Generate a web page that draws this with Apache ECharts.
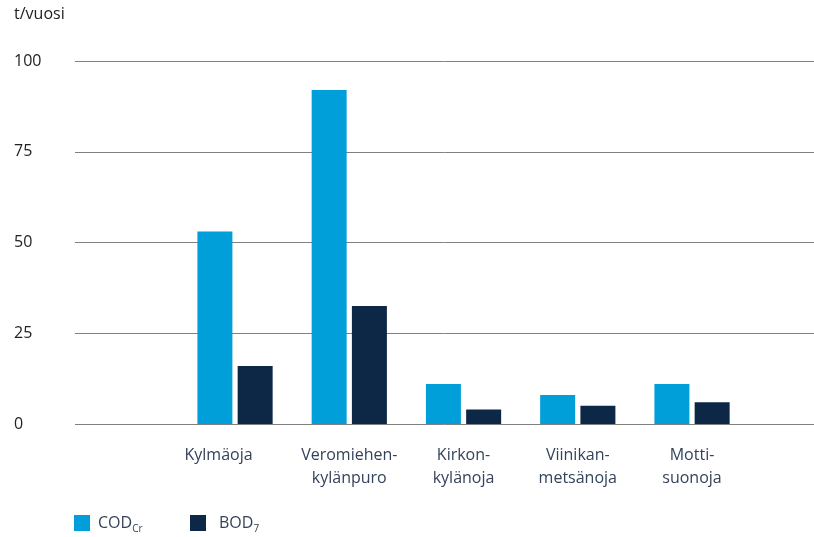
<!DOCTYPE html>
<html><head><meta charset="utf-8">
<script src="https://cdn.jsdelivr.net/npm/echarts@6/dist/echarts.min.js"></script>
<style>html,body{margin:0;padding:0;background:#fff}#c{width:814px;height:537px}</style>
</head><body><div id="c"></div>
<script>
const categories = ['Kylmäoja', 'Veromiehen-\nkylänpuro', 'Kirkon-\nkylänoja', 'Viinikan-\nmetsänoja', 'Motti-\nsuonoja'];
const codValues = [53, 92, 11, 8, 11];
const bodValues = [16, 32.5, 4, 5, 6];
const yTicks = { min: 0, max: 100, interval: 25 };
const yUnit = 't/vuosi';

const FONT = 'Open Sans';
const chart = echarts.init(document.getElementById('c'));
const catData = categories.map((c, i) => i === 0
  ? { value: c, textStyle: { padding: [0, 33, 0, 0] } }
  : c);
chart.setOption({
  animation: false,
  textStyle: { fontFamily: FONT },
  title: { text: yUnit, left: 14, top: 6, padding: 0, textStyle: { fontFamily: FONT, fontSize: 16, fontWeight: 'normal', color: '#222' } },
  grid: [
    { left: 75, right: 0, top: 61, bottom: 113 },
    { left: 177.9, width: 571.25, top: 61, bottom: 113 }
  ],
  xAxis: [
    { gridIndex: 0, type: 'category', data: [''], show: false },
    { gridIndex: 1, type: 'category', data: catData,
      axisLine: { show: false }, axisTick: { show: false },
      axisLabel: { interval: 0, margin: 20, fontFamily: FONT, fontSize: 16, lineHeight: 23, color: '#33435a' } }
  ],
  yAxis: [
    { gridIndex: 0, type: 'value', min: yTicks.min, max: yTicks.max, interval: yTicks.interval,
      axisLine: { show: false }, axisTick: { show: false },
      axisLabel: { align: 'left', margin: 61, fontFamily: FONT, fontSize: 16, color: '#222' },
      splitLine: { lineStyle: { color: '#808080', width: 1 } } },
    { gridIndex: 1, type: 'value', min: yTicks.min, max: yTicks.max, interval: yTicks.interval, show: false, splitLine: { show: false } }
  ],
  legend: [
    { data: ['COD'], left: 74, top: 515, padding: 0, itemWidth: 16, itemHeight: 16, icon: 'rect',
      formatter: () => '{a|COD}{s|Cr}',
      textStyle: { padding: [0, 0, 0, 3], rich: {
        a: { fontFamily: FONT, fontSize: 16, color: '#33435a' },
        s: { fontFamily: FONT, fontSize: 10, color: '#33435a', padding: [12, 0, 0, 0] } } } },
    { data: ['BOD'], left: 190, top: 515, padding: 0, itemWidth: 16, itemHeight: 16, icon: 'rect',
      formatter: () => '{a|BOD}{s|7}',
      textStyle: { padding: [0, 0, 0, 8], rich: {
        a: { fontFamily: FONT, fontSize: 16, color: '#33435a' },
        s: { fontFamily: FONT, fontSize: 10, color: '#33435a', padding: [12, 0, 0, 0] } } } }
  ],
  series: [
    { name: 'COD', type: 'bar', xAxisIndex: 1, yAxisIndex: 1, data: codValues, barWidth: 35, barGap: '15%', itemStyle: { color: '#009fd9' } },
    { name: 'BOD', type: 'bar', xAxisIndex: 1, yAxisIndex: 1, data: bodValues, barWidth: 35, barGap: '15%', itemStyle: { color: '#0d2847' } }
  ]
});
</script></body></html>
